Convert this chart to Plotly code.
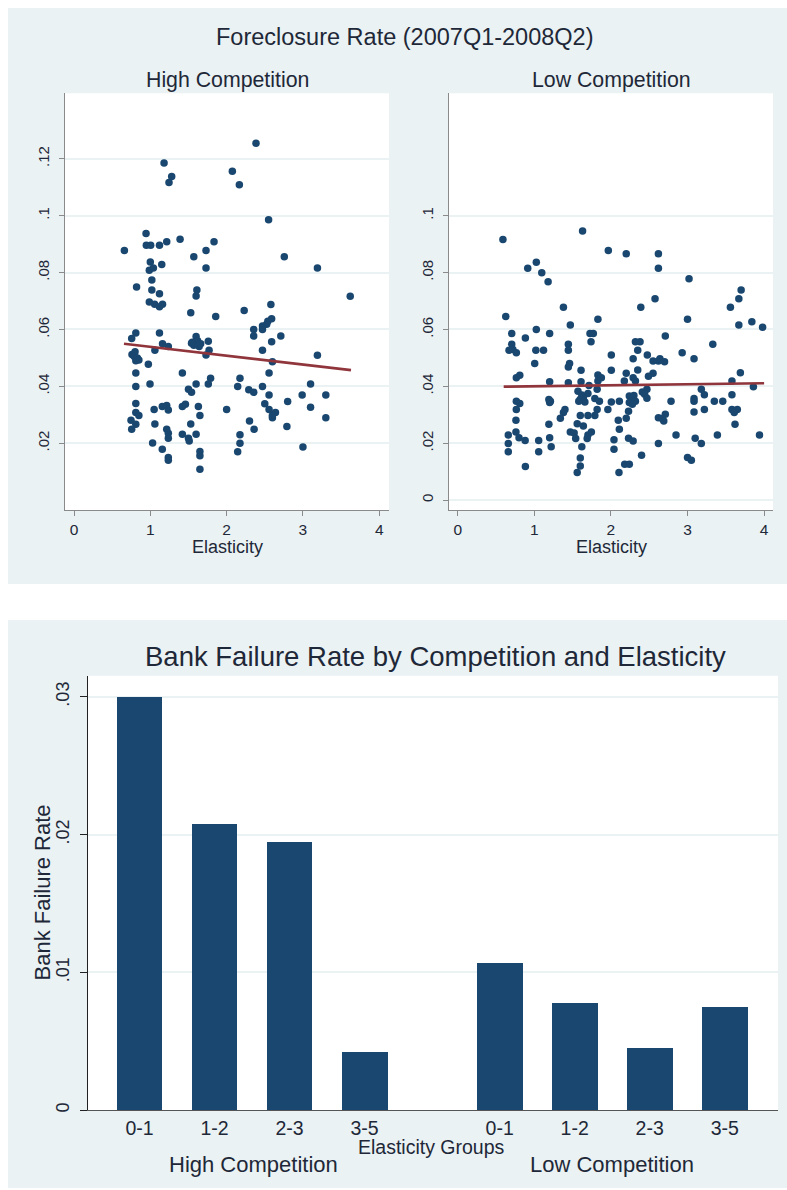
import plotly.graph_objects as go

# ---------------- data ----------------
high_pts = [
    (1.18, 0.1185), (1.28, 0.1138), (1.245, 0.1117),
    (0.944, 0.0937), (0.948, 0.0896), (1.005, 0.0896), (1.12, 0.0896), (1.215, 0.0908), (1.39, 0.0917),
    (0.66, 0.0878), (1.57, 0.0856), (1.73, 0.0878), (1.835, 0.0908),
    (1.0, 0.0837), (1.15, 0.0828), (0.987, 0.0808), (1.04, 0.0816), (1.73, 0.0816),
    (0.82, 0.0749), (1.02, 0.0774), (1.02, 0.0739), (1.12, 0.0726), (1.61, 0.0739), (1.6, 0.0718),
    (0.987, 0.0697), (1.057, 0.0689), (1.12, 0.068), (1.16, 0.0689), (1.53, 0.0659), (1.857, 0.0646),
    (0.81, 0.0588), (1.12, 0.0588), (0.756, 0.0568),
    (1.55, 0.0555), (1.58, 0.0548), (1.6, 0.0575), (1.62, 0.056), (1.64, 0.054), (1.57, 0.0545),
    (1.66, 0.055), (1.54, 0.0552),
    (1.76, 0.0559), (1.16, 0.055), (1.236, 0.054), (1.06, 0.0527), (1.77, 0.0527), (1.73, 0.051),
    (0.76, 0.0512), (0.79, 0.0505), (0.8, 0.0522), (0.83, 0.05), (0.85, 0.0493), (0.81, 0.049),
    (0.974, 0.0478), (0.81, 0.0447), (1.42, 0.0447), (0.81, 0.04), (0.996, 0.0408), (1.6, 0.0408),
    (1.79, 0.0429), (1.76, 0.0408), (1.5, 0.039), (1.54, 0.0379),
    (0.81, 0.034), (1.05, 0.0319), (1.157, 0.0329), (1.215, 0.0333), (1.236, 0.0317), (1.42, 0.0329),
    (1.46, 0.0337), (1.63, 0.0329), (2.0, 0.0319),
    (0.81, 0.0308), (0.85, 0.0298), (1.65, 0.0298), (0.747, 0.0281), (0.81, 0.0267), (0.756, 0.0249),
    (1.06, 0.0268), (1.53, 0.0268),
    (1.215, 0.0249), (1.236, 0.0235), (1.236, 0.0218), (1.42, 0.0232), (1.5, 0.0218), (1.51, 0.0208),
    (1.6, 0.0232), (1.03, 0.0201), (1.157, 0.0179), (1.236, 0.015), (1.236, 0.014), (1.65, 0.0171),
    (1.65, 0.0156), (1.65, 0.0109),
    (2.385, 0.1255), (2.075, 0.1156), (2.167, 0.1109), (2.55, 0.0986), (2.756, 0.0856), (3.19, 0.0816),
    (3.62, 0.0717), (2.23, 0.0667), (2.58, 0.0688),
    (2.59, 0.0638), (2.54, 0.0629), (2.525, 0.0618), (2.47, 0.0612), (2.47, 0.06), (2.355, 0.06),
    (2.355, 0.0577), (2.71, 0.0577), (2.59, 0.0557), (2.47, 0.0527), (2.6, 0.0487), (3.19, 0.0509),
    (2.556, 0.0447), (2.175, 0.0429), (2.145, 0.04), (2.47, 0.04), (2.29, 0.0388), (2.355, 0.0379),
    (3.1, 0.0408), (2.556, 0.037), (2.99, 0.037), (3.3, 0.037), (2.8, 0.0347), (2.5, 0.0339),
    (3.1, 0.0327), (2.556, 0.0319), (2.64, 0.0308), (2.6, 0.029), (2.6, 0.0298), (3.3, 0.029),
    (2.3, 0.0278), (2.79, 0.0259), (2.36, 0.0249), (2.175, 0.023), (2.175, 0.02), (2.145, 0.017),
    (3.0, 0.0187),
]
high_elasticity = [p[0] for p in high_pts]
high_foreclosure = [p[1] for p in high_pts]

low_pts = [
    (0.59, 0.0916), (1.63, 0.0946), (1.966, 0.0878), (1.026, 0.0836), (0.914, 0.0815), (1.097, 0.0799),
    (1.18, 0.0768), (1.38, 0.0678), (0.627, 0.0646), (1.83, 0.0636), (1.47, 0.0616), (1.026, 0.06),
    (0.705, 0.0586), (1.2, 0.0586), (1.727, 0.0586), (1.77, 0.0586), (0.883, 0.057), (1.74, 0.0557),
    (0.705, 0.0548), (0.67, 0.0527), (0.72, 0.053), (0.765, 0.0518), (1.02, 0.0527), (1.12, 0.0527),
    (1.444, 0.0548), (1.444, 0.0527), (2.005, 0.051), (1.005, 0.048), (1.46, 0.048), (1.444, 0.0468),
    (1.61, 0.0457), (2.005, 0.0457),
    (0.81, 0.0439), (0.765, 0.043), (1.83, 0.044), (1.875, 0.043), (1.83, 0.0419), (1.2, 0.0416),
    (1.444, 0.0413), (1.61, 0.0416), (1.714, 0.0403), (1.82, 0.039),
    (1.19, 0.0354), (1.2, 0.0343), (1.21, 0.0348), (0.765, 0.0348), (0.81, 0.034), (0.765, 0.0319),
    (1.57, 0.0383), (1.62, 0.037), (1.6, 0.0355), (1.64, 0.036), (1.66, 0.0345), (1.7, 0.0375),
    (1.58, 0.0348),
    (1.79, 0.0357), (1.85, 0.0348), (1.82, 0.0319), (1.96, 0.0319), (2.005, 0.0345),
    (1.4, 0.0319), (1.38, 0.0308), (1.34, 0.0288), (0.76, 0.0281), (1.6, 0.0298), (1.7, 0.0298),
    (1.79, 0.0298), (1.19, 0.0267), (1.56, 0.0269), (1.64, 0.0261),
    (1.47, 0.024), (1.52, 0.0236), (1.54, 0.0217), (1.745, 0.024), (1.7, 0.0229), (1.69, 0.0217),
    (0.66, 0.0229), (0.66, 0.0199), (0.66, 0.017), (0.76, 0.024), (0.8, 0.0219), (0.88, 0.021),
    (1.057, 0.021), (1.057, 0.017), (1.2, 0.0219), (1.22, 0.0188), (0.883, 0.0118), (1.62, 0.0188),
    (1.6, 0.0148), (1.6, 0.012), (1.56, 0.0097),
    (2.2, 0.0866), (2.62, 0.0866), (2.62, 0.0815), (3.02, 0.0778), (3.7, 0.0739), (3.67, 0.0708),
    (3.56, 0.0678), (2.576, 0.0708), (2.39, 0.0678), (3.0, 0.0636), (3.67, 0.0616), (3.84, 0.0627),
    (3.98, 0.0608), (2.71, 0.0577), (2.32, 0.0557), (2.38, 0.0557), (2.35, 0.0527), (3.33, 0.0548),
    (2.93, 0.0518), (3.085, 0.0497), (2.475, 0.051), (2.29, 0.0497), (2.55, 0.0489), (2.62, 0.0489),
    (2.7, 0.0487), (2.64, 0.0497), (2.35, 0.0458), (2.2, 0.0446), (2.55, 0.0446), (2.49, 0.0436),
    (3.69, 0.0448), (2.175, 0.0419), (2.29, 0.043), (2.32, 0.0419), (3.58, 0.0419), (3.86, 0.0399),
    (3.18, 0.039), (3.22, 0.0371), (2.41, 0.038), (2.47, 0.039), (2.44, 0.0372), (2.47, 0.0358),
    (3.58, 0.0371),
    (2.24, 0.0366), (2.3, 0.0368), (2.28, 0.0348), (2.24, 0.0343), (2.32, 0.0348), (2.28, 0.0337),
    (2.11, 0.0348), (2.785, 0.0348), (3.085, 0.0357), (3.085, 0.0348), (3.35, 0.0348), (3.46, 0.0348),
    (3.58, 0.0319), (3.65, 0.0319), (3.61, 0.0308), (3.085, 0.031), (3.22, 0.0319), (2.23, 0.0313),
    (2.2, 0.0288), (2.62, 0.029), (2.67, 0.0287), (2.71, 0.0302), (2.69, 0.0278), (2.096, 0.0281),
    (3.62, 0.0267), (2.11, 0.0249), (2.85, 0.0229), (3.39, 0.0229), (3.94, 0.0229), (2.23, 0.0218),
    (2.29, 0.0208), (2.04, 0.0212), (2.04, 0.0179), (3.1, 0.0218), (3.18, 0.0199), (2.62, 0.0199),
    (2.4, 0.0158), (3.0, 0.015), (3.05, 0.014), (2.18, 0.0126), (2.24, 0.0126), (2.105, 0.0097),
]
low_elasticity = [p[0] for p in low_pts]
low_foreclosure = [p[1] for p in low_pts]

high_fit_x = [0.655, 3.63]
high_fit_y = [0.0550, 0.0457]
low_fit_x = [0.60, 4.00]
low_fit_y = [0.0399, 0.0411]

elasticity_groups = ["0-1", "1-2", "2-3", "3-5"]
competition = ["High Competition", "Low Competition"]
bank_fail_high = [0.0300, 0.0208, 0.0195, 0.0042]
bank_fail_low = [0.0107, 0.0078, 0.0045, 0.0075]

scatter_x_ticks = [0, 1, 2, 3, 4]
high_y_ticks = [0.02, 0.04, 0.06, 0.08, 0.10, 0.12]
high_y_labels = [".02", ".04", ".06", ".08", ".1", ".12"]
low_y_ticks = [0, 0.02, 0.04, 0.06, 0.08, 0.10]
low_y_labels = ["0", ".02", ".04", ".06", ".08", ".1"]
bar_y_ticks = [0, 0.01, 0.02, 0.03]
bar_y_labels = ["0", ".01", ".02", ".03"]

# ---------------- style ----------------
W, H = 787, 1190
NAVY = "#1A476F"
MAROON = "#90353B"
PANEL = "#EAF2F3"
GRID = "#EAF2F3"
TXT = "#1E2838"
FONT = "Liberation Sans, Arial, sans-serif"
AXGRAY = "#8A8A8A"


def px(x):
    return x / W


def py(y):
    return 1 - y / H


fig = go.Figure()

fig.add_trace(go.Scatter(x=high_elasticity, y=high_foreclosure, mode="markers",
                         marker=dict(color=NAVY, size=7.5, line=dict(width=0)),
                         xaxis="x", yaxis="y", showlegend=False))
fig.add_trace(go.Scatter(x=high_fit_x, y=high_fit_y, mode="lines",
                         line=dict(color=MAROON, width=2.6),
                         xaxis="x", yaxis="y", showlegend=False))
fig.add_trace(go.Scatter(x=low_elasticity, y=low_foreclosure, mode="markers",
                         marker=dict(color=NAVY, size=7.5, line=dict(width=0)),
                         xaxis="x2", yaxis="y2", showlegend=False))
fig.add_trace(go.Scatter(x=low_fit_x, y=low_fit_y, mode="lines",
                         line=dict(color=MAROON, width=2.6),
                         xaxis="x2", yaxis="y2", showlegend=False))

GROUP_GAP = 0.8
bar_pos, bar_vals, bar_labels = [], [], []
for gi, vals in enumerate([bank_fail_high, bank_fail_low]):
    for j, v in enumerate(vals):
        bar_pos.append(j + gi * (len(elasticity_groups) + GROUP_GAP))
        bar_vals.append(v)
        bar_labels.append(elasticity_groups[j])
fig.add_trace(go.Bar(x=bar_pos, y=bar_vals, width=0.61,
                     marker=dict(color=NAVY, line=dict(width=0)),
                     xaxis="x3", yaxis="y3", showlegend=False))

tickfont = dict(family=FONT, size=15.5, color=TXT)
ytickfont = dict(family=FONT, size=15, color=TXT)

common_x = dict(showline=True, linecolor=AXGRAY, linewidth=1.3, ticks="outside",
                ticklen=5, tickcolor=AXGRAY, tickwidth=1.2, showgrid=False,
                zeroline=False, tickfont=tickfont, tickvals=scatter_x_ticks)
common_y = dict(showline=True, linecolor=AXGRAY, linewidth=1.3, ticks="outside",
                ticklen=5, tickcolor=AXGRAY, tickwidth=1.2, showgrid=True,
                gridcolor=GRID, gridwidth=1.6, zeroline=False, tickangle=-90,
                tickfont=ytickfont, ticklabelstandoff=4)

L = dict(x0=65, x1=389, y0=93.5, y1=511)
R = dict(x0=449, x1=773, y0=93.5, y1=511)
B = dict(x0=88, x1=778, y0=677, y1=1112)

fig.update_layout(
    xaxis=dict(domain=[px(L["x0"]), px(L["x1"])], range=[-0.118, 4.128], anchor="y", **common_x),
    yaxis=dict(domain=[py(L["y1"]), py(L["y0"])], range=[-0.0035, 0.143], anchor="x",
               tickvals=high_y_ticks, ticktext=high_y_labels, **common_y),
    xaxis2=dict(domain=[px(R["x0"]), px(R["x1"])], range=[-0.114, 4.116], anchor="y2", **common_x),
    yaxis2=dict(domain=[py(R["y1"]), py(R["y0"])], range=[-0.0035, 0.143], anchor="x2",
                tickvals=low_y_ticks, ticktext=low_y_labels, **common_y),
    xaxis3=dict(domain=[px(B["x0"]), px(B["x1"])], range=[-0.687, 8.51], anchor="y3",
                showline=True, linecolor="#555555", linewidth=1.3, ticks="", showgrid=False,
                zeroline=False, tickvals=bar_pos, ticktext=bar_labels,
                tickfont=dict(family=FONT, size=19.5, color=TXT)),
    yaxis3=dict(domain=[py(B["y1"]), py(B["y0"])], range=[0, 0.03152], anchor="x3",
                showline=True, linecolor="#222222", linewidth=1.3, ticks="outside", ticklen=7,
                tickcolor="#222222", tickwidth=1.2, showgrid=True, gridcolor=GRID, gridwidth=1.6,
                zeroline=False, tickvals=bar_y_ticks, ticktext=bar_y_labels, tickangle=-90,
                tickfont=dict(family=FONT, size=18, color=TXT), ticklabelstandoff=4),
    width=W, height=H,
    margin=dict(l=0, r=0, t=0, b=0),
    paper_bgcolor="white", plot_bgcolor="white",
    showlegend=False,
    bargap=0,
)

shapes = []
shapes.append(dict(type="rect", xref="paper", yref="paper", x0=px(8), x1=px(787), y0=py(585), y1=py(8),
                   fillcolor=PANEL, line=dict(width=0), layer="below"))
shapes.append(dict(type="rect", xref="paper", yref="paper", x0=px(8), x1=px(787), y0=py(1190), y1=py(621),
                   fillcolor=PANEL, line=dict(width=0), layer="below"))
for reg in (L, R, B):
    shapes.append(dict(type="rect", xref="paper", yref="paper", x0=px(reg["x0"]), x1=px(reg["x1"]),
                       y0=py(reg["y1"]), y1=py(reg["y0"]), fillcolor="white", line=dict(width=0),
                       layer="below"))
fig.update_layout(shapes=shapes)


def ann(text, x, y, size, angle=0):
    return dict(text=text, x=px(x), y=py(y), xref="paper", yref="paper", showarrow=False,
                xanchor="center", yanchor="middle", textangle=angle,
                font=dict(family=FONT, size=size, color=TXT))


annotations = [
    ann("Foreclosure Rate (2007Q1-2008Q2)", 405, 37, 23.5),
    ann(competition[0], 227, 80, 21.3),
    ann(competition[1], 611, 80, 21.3),
    ann("Elasticity", 227, 548, 18),
    ann("Elasticity", 611, 548, 18),
    ann("Bank Failure Rate by Competition and Elasticity", 435, 658, 27.5),
    ann("Bank Failure Rate", 42, 894, 22, angle=-90),
    ann("Elasticity Groups", 431, 1149, 19.5),
    ann(competition[0], 253, 1166, 22),
    ann(competition[1], 612, 1166, 22),
]
fig.update_layout(annotations=annotations)

# the figure fills the whole 787x1190 window: drop the page's default body margin
fig.write_html("out.html",
               config={"displayModeBar": False},
               post_script="document.body.style.margin='0';document.body.style.overflow='hidden';")
